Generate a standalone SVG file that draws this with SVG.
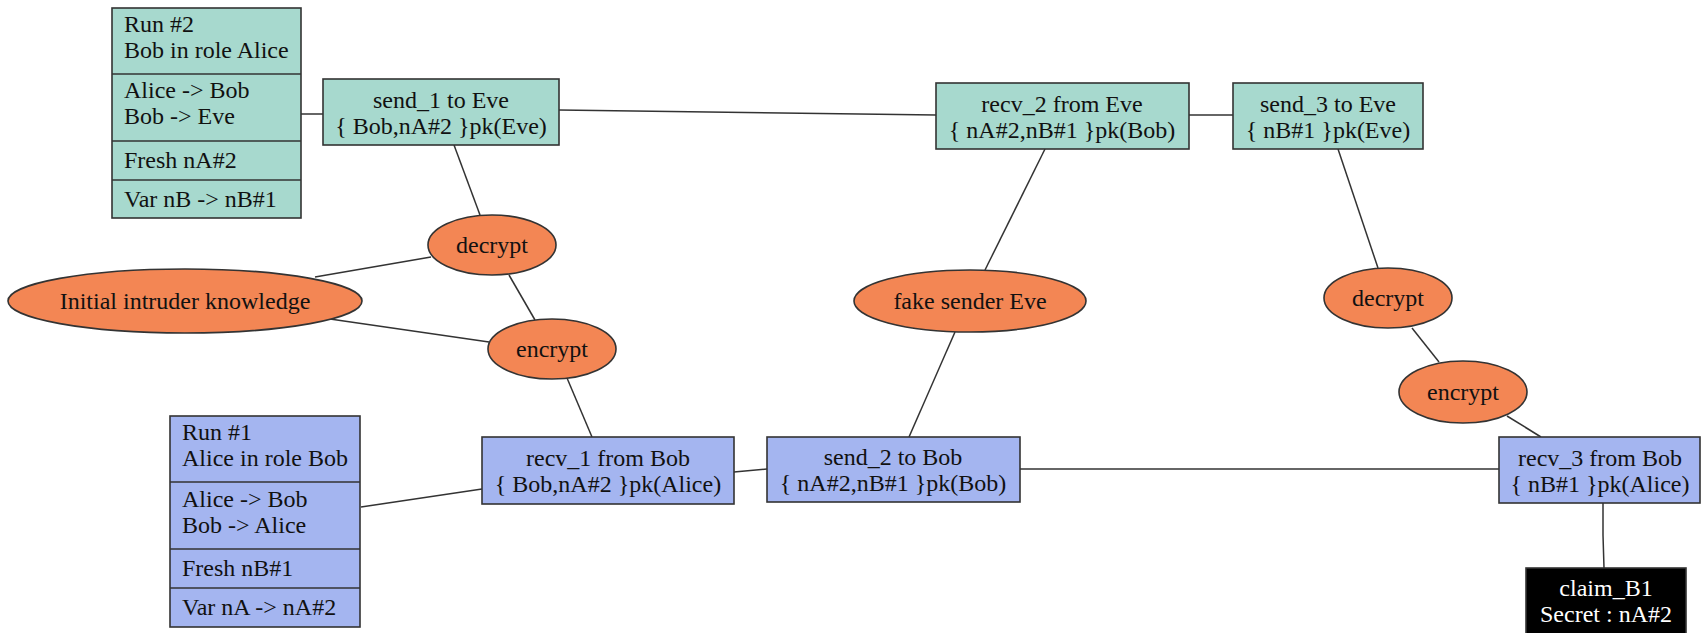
<svg xmlns="http://www.w3.org/2000/svg" width="1702" height="633" viewBox="0 0 1702 633">
<style>
  .teal { fill: #a7d9ce; stroke: #333; stroke-width: 1.6; }
  .blue { fill: #a4b5f0; stroke: #333; stroke-width: 1.6; }
  .ell { fill: #f38654; stroke: #333; stroke-width: 1.6; }
  .blk { fill: #000; stroke: #333; stroke-width: 1.6; }
  .div { stroke: #333; stroke-width: 1.6; }
  text { font-family: "Liberation Serif", "Times New Roman", serif; font-size: 24px; fill: #111; }
  .c { text-anchor: middle; }
  .w { fill: #fff; }
  .edges line, .edges polyline { stroke: #333; stroke-width: 1.5; fill: none; }
</style>
<rect width="1702" height="633" fill="#fff"/>
<g class="edges" id="connectors">
  <line x1="301" y1="114" x2="323" y2="114"/>
  <line x1="559" y1="110" x2="936" y2="115"/>
  <line x1="1189" y1="115" x2="1233" y2="115"/>
  <line x1="454" y1="145" x2="480" y2="215"/>
  <line x1="315" y1="277" x2="431" y2="257"/>
  <line x1="330" y1="319" x2="489" y2="342"/>
  <line x1="509" y1="275" x2="535" y2="320"/>
  <line x1="567" y1="378" x2="592" y2="437"/>
  <line x1="361" y1="507" x2="482" y2="489"/>
  <line x1="734" y1="472" x2="767" y2="469"/>
  <line x1="1045" y1="149" x2="985" y2="270"/>
  <line x1="955" y1="332" x2="909" y2="437"/>
  <line x1="1020" y1="469" x2="1499" y2="469"/>
  <line x1="1338" y1="149" x2="1378" y2="268"/>
  <line x1="1412" y1="328" x2="1439" y2="362"/>
  <line x1="1507" y1="416" x2="1541" y2="437"/>
  <polyline points="1603,503 1603,535 1604,568"/>
</g>
<g id="run2">
  <rect class="teal" x="112" y="8" width="189" height="210"/>
  <line class="div" x1="112" y1="74" x2="301" y2="74"/>
  <line class="div" x1="112" y1="141" x2="301" y2="141"/>
  <line class="div" x1="112" y1="180" x2="301" y2="180"/>
  <text x="124" y="32">Run #2</text>
  <text x="124" y="58">Bob in role Alice</text>
  <text x="124" y="98">Alice -&gt; Bob</text>
  <text x="124" y="124">Bob -&gt; Eve</text>
  <text x="124" y="168">Fresh nA#2</text>
  <text x="124" y="207">Var nB -&gt; nB#1</text>
</g>
<g id="send_1">
  <rect class="teal" x="323" y="79" width="236" height="66"/>
  <text class="c" x="441" y="108">send_1 to Eve</text>
  <text class="c" x="441" y="134">{ Bob,nA#2 }pk(Eve)</text>
</g>
<g id="recv_2">
  <rect class="teal" x="936" y="83" width="253" height="66"/>
  <text class="c" x="1062" y="112">recv_2 from Eve</text>
  <text class="c" x="1062" y="138">{ nA#2,nB#1 }pk(Bob)</text>
</g>
<g id="send_3">
  <rect class="teal" x="1233" y="83" width="190" height="66"/>
  <text class="c" x="1328" y="112">send_3 to Eve</text>
  <text class="c" x="1328" y="138">{ nB#1 }pk(Eve)</text>
</g>
<g id="decrypt1">
  <ellipse class="ell" cx="492" cy="245" rx="64" ry="30"/>
  <text class="c" x="492" y="253">decrypt</text>
</g>
<g id="iik">
  <ellipse class="ell" cx="185" cy="301" rx="177" ry="32"/>
  <text class="c" x="185" y="309">Initial intruder knowledge</text>
</g>
<g id="encrypt1">
  <ellipse class="ell" cx="552" cy="349" rx="64" ry="30"/>
  <text class="c" x="552" y="357">encrypt</text>
</g>
<g id="fake">
  <ellipse class="ell" cx="970" cy="301" rx="116" ry="31"/>
  <text class="c" x="970" y="309">fake sender Eve</text>
</g>
<g id="decrypt2">
  <ellipse class="ell" cx="1388" cy="298" rx="64" ry="30"/>
  <text class="c" x="1388" y="306">decrypt</text>
</g>
<g id="encrypt2">
  <ellipse class="ell" cx="1463" cy="392" rx="64" ry="31"/>
  <text class="c" x="1463" y="400">encrypt</text>
</g>
<g id="run1">
  <rect class="blue" x="170" y="416" width="190" height="211"/>
  <line class="div" x1="170" y1="482" x2="360" y2="482"/>
  <line class="div" x1="170" y1="549" x2="360" y2="549"/>
  <line class="div" x1="170" y1="588" x2="360" y2="588"/>
  <text x="182" y="440">Run #1</text>
  <text x="182" y="466">Alice in role Bob</text>
  <text x="182" y="507">Alice -&gt; Bob</text>
  <text x="182" y="533">Bob -&gt; Alice</text>
  <text x="182" y="576">Fresh nB#1</text>
  <text x="182" y="615">Var nA -&gt; nA#2</text>
</g>
<g id="recv_1">
  <rect class="blue" x="482" y="437" width="252" height="67"/>
  <text class="c" x="608" y="466">recv_1 from Bob</text>
  <text class="c" x="608" y="492">{ Bob,nA#2 }pk(Alice)</text>
</g>
<g id="send_2">
  <rect class="blue" x="767" y="437" width="253" height="65"/>
  <text class="c" x="893" y="465">send_2 to Bob</text>
  <text class="c" x="893" y="491">{ nA#2,nB#1 }pk(Bob)</text>
</g>
<g id="recv_3">
  <rect class="blue" x="1499" y="437" width="201" height="66"/>
  <text class="c" x="1600" y="466">recv_3 from Bob</text>
  <text class="c" x="1600" y="492">{ nB#1 }pk(Alice)</text>
</g>
<g id="claim">
  <rect class="blk" x="1526" y="568" width="160" height="72"/>
  <text class="c w" x="1606" y="596">claim_B1</text>
  <text class="c w" x="1606" y="622">Secret : nA#2</text>
</g>
</svg>
